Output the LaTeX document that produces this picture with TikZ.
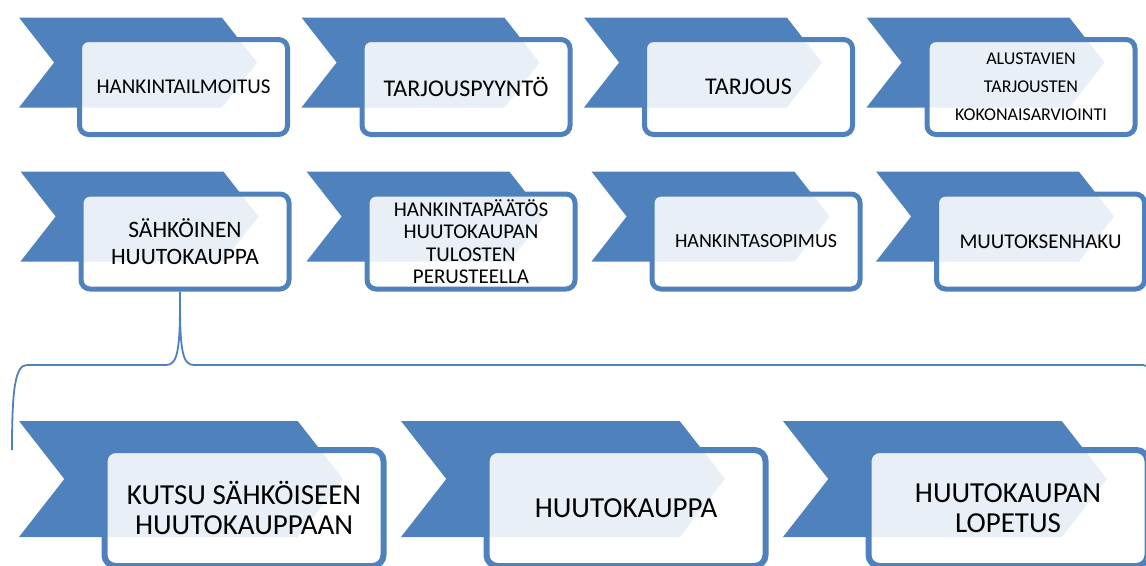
\documentclass[tikz,border=0pt]{standalone}
\usepackage{fontspec}
\setmainfont{Carlito}
\usetikzlibrary{shapes.symbols,positioning}
\definecolor{chevblue}{HTML}{4F81BD}

\begin{document}
\begin{tikzpicture}[x=1pt,y=-1pt,
    chev/.style={signal, signal from=west, signal to=east, signal pointer angle=104,
        fill=chevblue, inner sep=0pt, minimum width=238pt, minimum height=90pt},
    bigchev/.style={chev, minimum width=324pt, minimum height=116pt},
    box/.style={draw=chevblue, line width=5pt, rounded corners=9pt, fill=white,
        fill opacity=0.875, text opacity=1, inner sep=0pt, align=center,
        minimum width=208pt, minimum height=95pt},
    bigbox/.style={box, line width=6pt, rounded corners=11pt,
        minimum width=279pt, minimum height=116pt},
    link/.style={draw=chevblue, line width=1.8pt}]
    \useasboundingbox (0,0) rectangle (1146,565);
    \clip (0,0) rectangle (1146,565);

    % first row
    \node[chev] (c1) at (138,62.5) {};
    \node[box, font=\fontsize{21}{25}\selectfont] (b1) at ([shift={(45.5,24.5)}]c1.center) {HANKINTAILMOITUS};
    \node[chev] (c2) at (420.5,62.5) {};
    \node[box, font=\fontsize{24}{28}\selectfont] (b2) at ([shift={(45.5,24.5)}]c2.center) {TARJOUSPYYNTÖ};
    \node[chev] (c3) at (703,62.5) {};
    \node[box, font=\fontsize{24}{28}\selectfont] (b3) at ([shift={(45.5,24.5)}]c3.center) {TARJOUS};
    \node[chev] (c4) at (985.5,62.5) {};
    \node[box, font=\fontsize{18}{28}\selectfont] (b4) at ([shift={(45.5,24.5)}]c4.center) {ALUSTAVIEN\\TARJOUSTEN\\KOKONAISARVIOINTI};

    % second row
    \node[chev] (c5) at (139.5,216.5) {};
    \node[box, font=\fontsize{23.5}{27}\selectfont] (b5) at ([shift={(45.5,25)}]c5.center) {SÄHKÖINEN\\HUUTOKAUPPA};
    \node[chev] (c6) at (425.5,216.5) {};
    \node[box, font=\fontsize{21}{22.5}\selectfont] (b6) at ([shift={(45.5,25)}]c6.center) {HANKINTAPÄÄTÖS\\HUUTOKAUPAN\\TULOSTEN\\PERUSTEELLA};
    \node[chev] (c7) at (710.5,216.5) {};
    \node[box, font=\fontsize{20}{24}\selectfont] (b7) at ([shift={(45.5,25)}]c7.center) {HANKINTASOPIMUS};
    \node[chev] (c8) at (995,216.5) {};
    \node[box, font=\fontsize{21}{25}\selectfont] (b8) at ([shift={(45.5,25)}]c8.center) {MUUTOKSENHAKU};

    % brace down to the auction steps
    \draw[link] ([xshift=-5pt]b5.south) -- (180,303)
        .. controls (180,352) and (177,365) .. (166,365) -- (27,365)
        .. controls (15,365) and (12,390) .. (12,450);
    \draw[link] (180,303)
        .. controls (180,352) and (183,365) .. (194,365) -- (1143,365)
        .. controls (1155,365) and (1158,390) .. (1158,450);

    % third row
    \node[bigchev] (c9) at (181,479) {};
    \node[bigbox, font=\fontsize{29}{30}\selectfont] (b9) at ([shift={(63,29)}]c9.center) {KUTSU SÄHKÖISEEN\\HUUTOKAUPPAAN};
    \node[bigchev] (c10) at (563,479) {};
    \node[bigbox, font=\fontsize{29}{30}\selectfont] (b10) at ([shift={(63,29)}]c10.center) {HUUTOKAUPPA};
    \node[bigchev] (c11) at (945,479) {};
    \node[bigbox, font=\fontsize{29}{30}\selectfont] (b11) at ([shift={(63,29)}]c11.center) {HUUTOKAUPAN\\LOPETUS};
\end{tikzpicture}
\end{document}
